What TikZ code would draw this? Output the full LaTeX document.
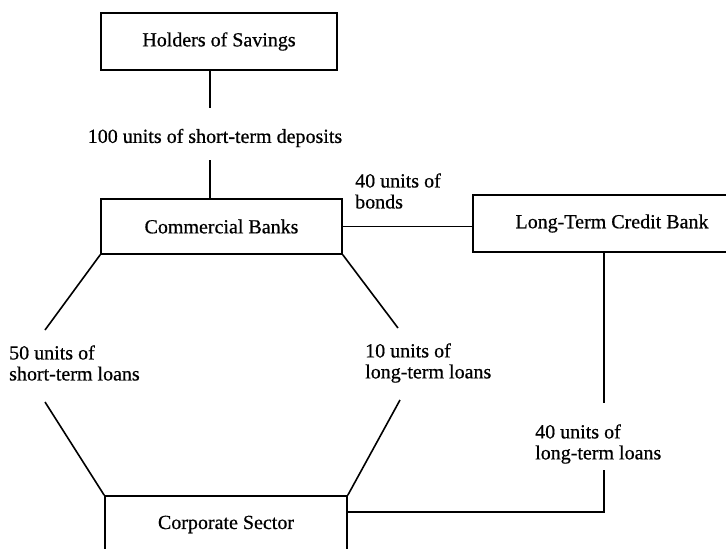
\documentclass[tikz,border=0pt]{standalone}
\usepackage{fontspec}
\newfontfamily\chartfont{Liberation Serif}[FakeBold=0.6]
\begin{document}
\begin{tikzpicture}[x=1pt,y=-1pt,
  every node/.style={font=\chartfont\fontsize{20}{21}\selectfont},
  box/.style={draw,line width=1.6pt,rectangle,inner sep=0pt},
  lbl/.style={inner sep=0pt,align=left,anchor=west},
  link/.style={line width=1.6pt}]
\useasboundingbox (0,0) rectangle (726,549);
\clip (0,0) rectangle (726,549);

% institutions
\node[box,minimum width=236,minimum height=57] (hold) at (219,41.5) {Holders of Savings};
\node[box,minimum width=241,minimum height=55] (cb)   at (221.5,226.5) {Commercial Banks};
\node[box,minimum width=278,minimum height=57] (ltcb) at (612,223.5) {Long-Term Credit Bank};
\node[box,minimum width=242,minimum height=57] (corp) at (226,524.5) {Corporate Sector};

% flow labels
\node[inner sep=0pt] (dep) at (215,138) {100 units of short-term deposits};
\node[lbl] (bonds) at (355,191) {40 units of\\bonds};
\node[lbl] (stl)   at (9,363)   {50 units of\\short-term loans};
\node[lbl] (ltl)   at (365,363) {10 units of\\long-term loans};
\node[lbl] (ltl2)  at (535,444) {40 units of\\long-term loans};

% free ends of the broken connectors
\coordinate (d1) at (210,108);
\coordinate (d2) at (210,160);
\coordinate (a1) at (45,330);
\coordinate (a2) at (45,402);
\coordinate (b1) at (398,328);
\coordinate (b2) at (400,400);
\coordinate (l1) at (604,403);
\coordinate (l2) at (604,470);
\coordinate (l3) at (604,512);

% deposits
\draw[link] (d1 |- hold.south) -- (d1);
\draw[link] (d2) -- (d2 |- cb.north);
% bonds
\draw[link] (cb.east) -- (cb.east -| ltcb.west);
% short-term loans
\draw[link] (cb.south west) -- (a1);
\draw[link] (a2) -- (corp.north west);
% long-term loans from commercial banks
\draw[link] (cb.south east) -- (b1);
\draw[link] (b2) -- (corp.north east);
% long-term loans from the credit bank
\draw[link] (l1 |- ltcb.south) -- (l1);
\draw[link] (l2) -- (l3) -- (l3 -| corp.east);
\end{tikzpicture}
\end{document}
